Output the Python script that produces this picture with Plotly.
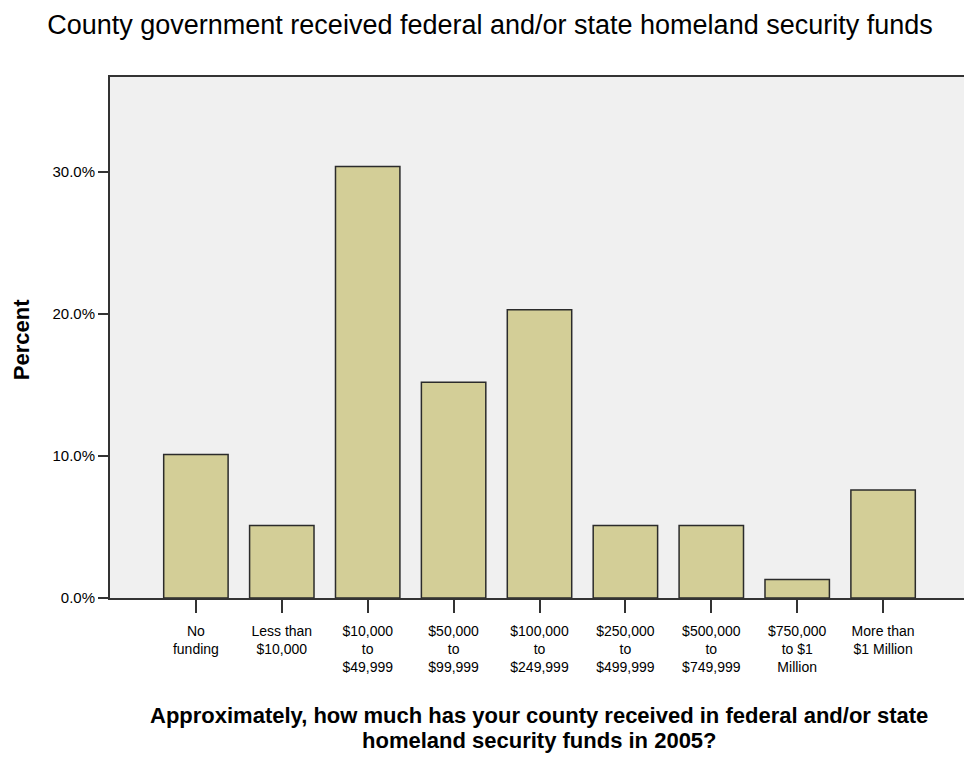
import plotly.graph_objects as go

categories = ["No<br>funding", "Less than<br>$10,000", "$10,000<br>to<br>$49,999",
              "$50,000<br>to<br>$99,999", "$100,000<br>to<br>$249,999",
              "$250,000<br>to<br>$499,999", "$500,000<br>to<br>$749,999",
              "$750,000<br>to $1<br>Million", "More than<br>$1 Million"]
percent = [10.1, 5.1, 30.4, 15.2, 20.3, 5.1, 5.1, 1.3, 7.6]
y_ticks = [0, 10, 20, 30]
y_tick_labels = ["0.0%", "10.0%", "20.0%", "30.0%"]

FONT = "Liberation Sans, Arial, sans-serif"

# page body has an 8px margin; work in reference coords minus OFF
OFF = 8
W, H = 972 - OFF, 758 - OFF
plot_left, plot_right, plot_top, plot_bottom = 110, 971, 77, 598
L = plot_left - OFF
R = (972 - OFF) - (plot_right - OFF)
T = plot_top - OFF
B = H - (plot_bottom - OFF)
PW = W - L - R
PH = H - T - B


def px_x(x):
    return (x - plot_left) / (plot_right - plot_left)


def px_y(y):
    return (plot_bottom - y) / (plot_bottom - plot_top)


fig = go.Figure()
fig.add_trace(go.Bar(
    x=list(range(len(categories))), y=percent,
    width=0.75,
    marker=dict(color="#D3CE97", line=dict(color="#2b2b2b", width=1.5)),
    hoverinfo="skip",
))

fig.update_layout(
    width=W, height=H,
    margin=dict(l=L, r=R, t=T, b=B),
    paper_bgcolor="white", plot_bgcolor="#F0F0F0",
    showlegend=False,
    font=dict(family=FONT, color="#000000"),
    title=dict(text="County government received federal and/or state homeland security funds",
               x=px_x(490) * PW / W + L / W, xanchor="center",
               y=1 - (25 - OFF) / H, yanchor="middle",
               font=dict(family=FONT, size=27, color="#000000")),
    xaxis=dict(
        range=[-1, 9], tickmode="array", tickvals=list(range(len(categories))),
        ticktext=categories, ticks="outside", ticklen=13, tickwidth=1.5, tickcolor="#333",
        ticklabelstandoff=6,
        showline=True, linecolor="#333", linewidth=2, mirror=True,
        showgrid=False, zeroline=False,
        tickfont=dict(family=FONT, size=14, color="#000"),
    ),
    yaxis=dict(
        range=[0, 36.7], tickmode="array", tickvals=y_ticks, ticktext=y_tick_labels,
        ticks="outside", ticklen=10, tickwidth=1.5, tickcolor="#333",
        showline=True, linecolor="#333", linewidth=2, mirror=True,
        showgrid=False, zeroline=False,
        tickfont=dict(family=FONT, size=15, color="#000"),
    ),
    annotations=[
        dict(text="<b>Approximately, how much has your county received in federal and/or state</b>",
             xref="paper", yref="paper", x=px_x(540), y=px_y(715),
             xanchor="center", yanchor="middle", showarrow=False,
             font=dict(family=FONT, size=22, color="#000")),
        dict(text="<b>homeland security funds in 2005?</b>",
             xref="paper", yref="paper", x=px_x(540), y=px_y(740),
             xanchor="center", yanchor="middle", showarrow=False,
             font=dict(family=FONT, size=22, color="#000")),
        dict(text="<b>Percent</b>", xref="paper", yref="paper",
             x=px_x(21), y=px_y(340),
             xanchor="center", yanchor="middle", textangle=-90, showarrow=False,
             font=dict(family=FONT, size=22, color="#000")),
    ],
)

fig.write_html("out.html")
